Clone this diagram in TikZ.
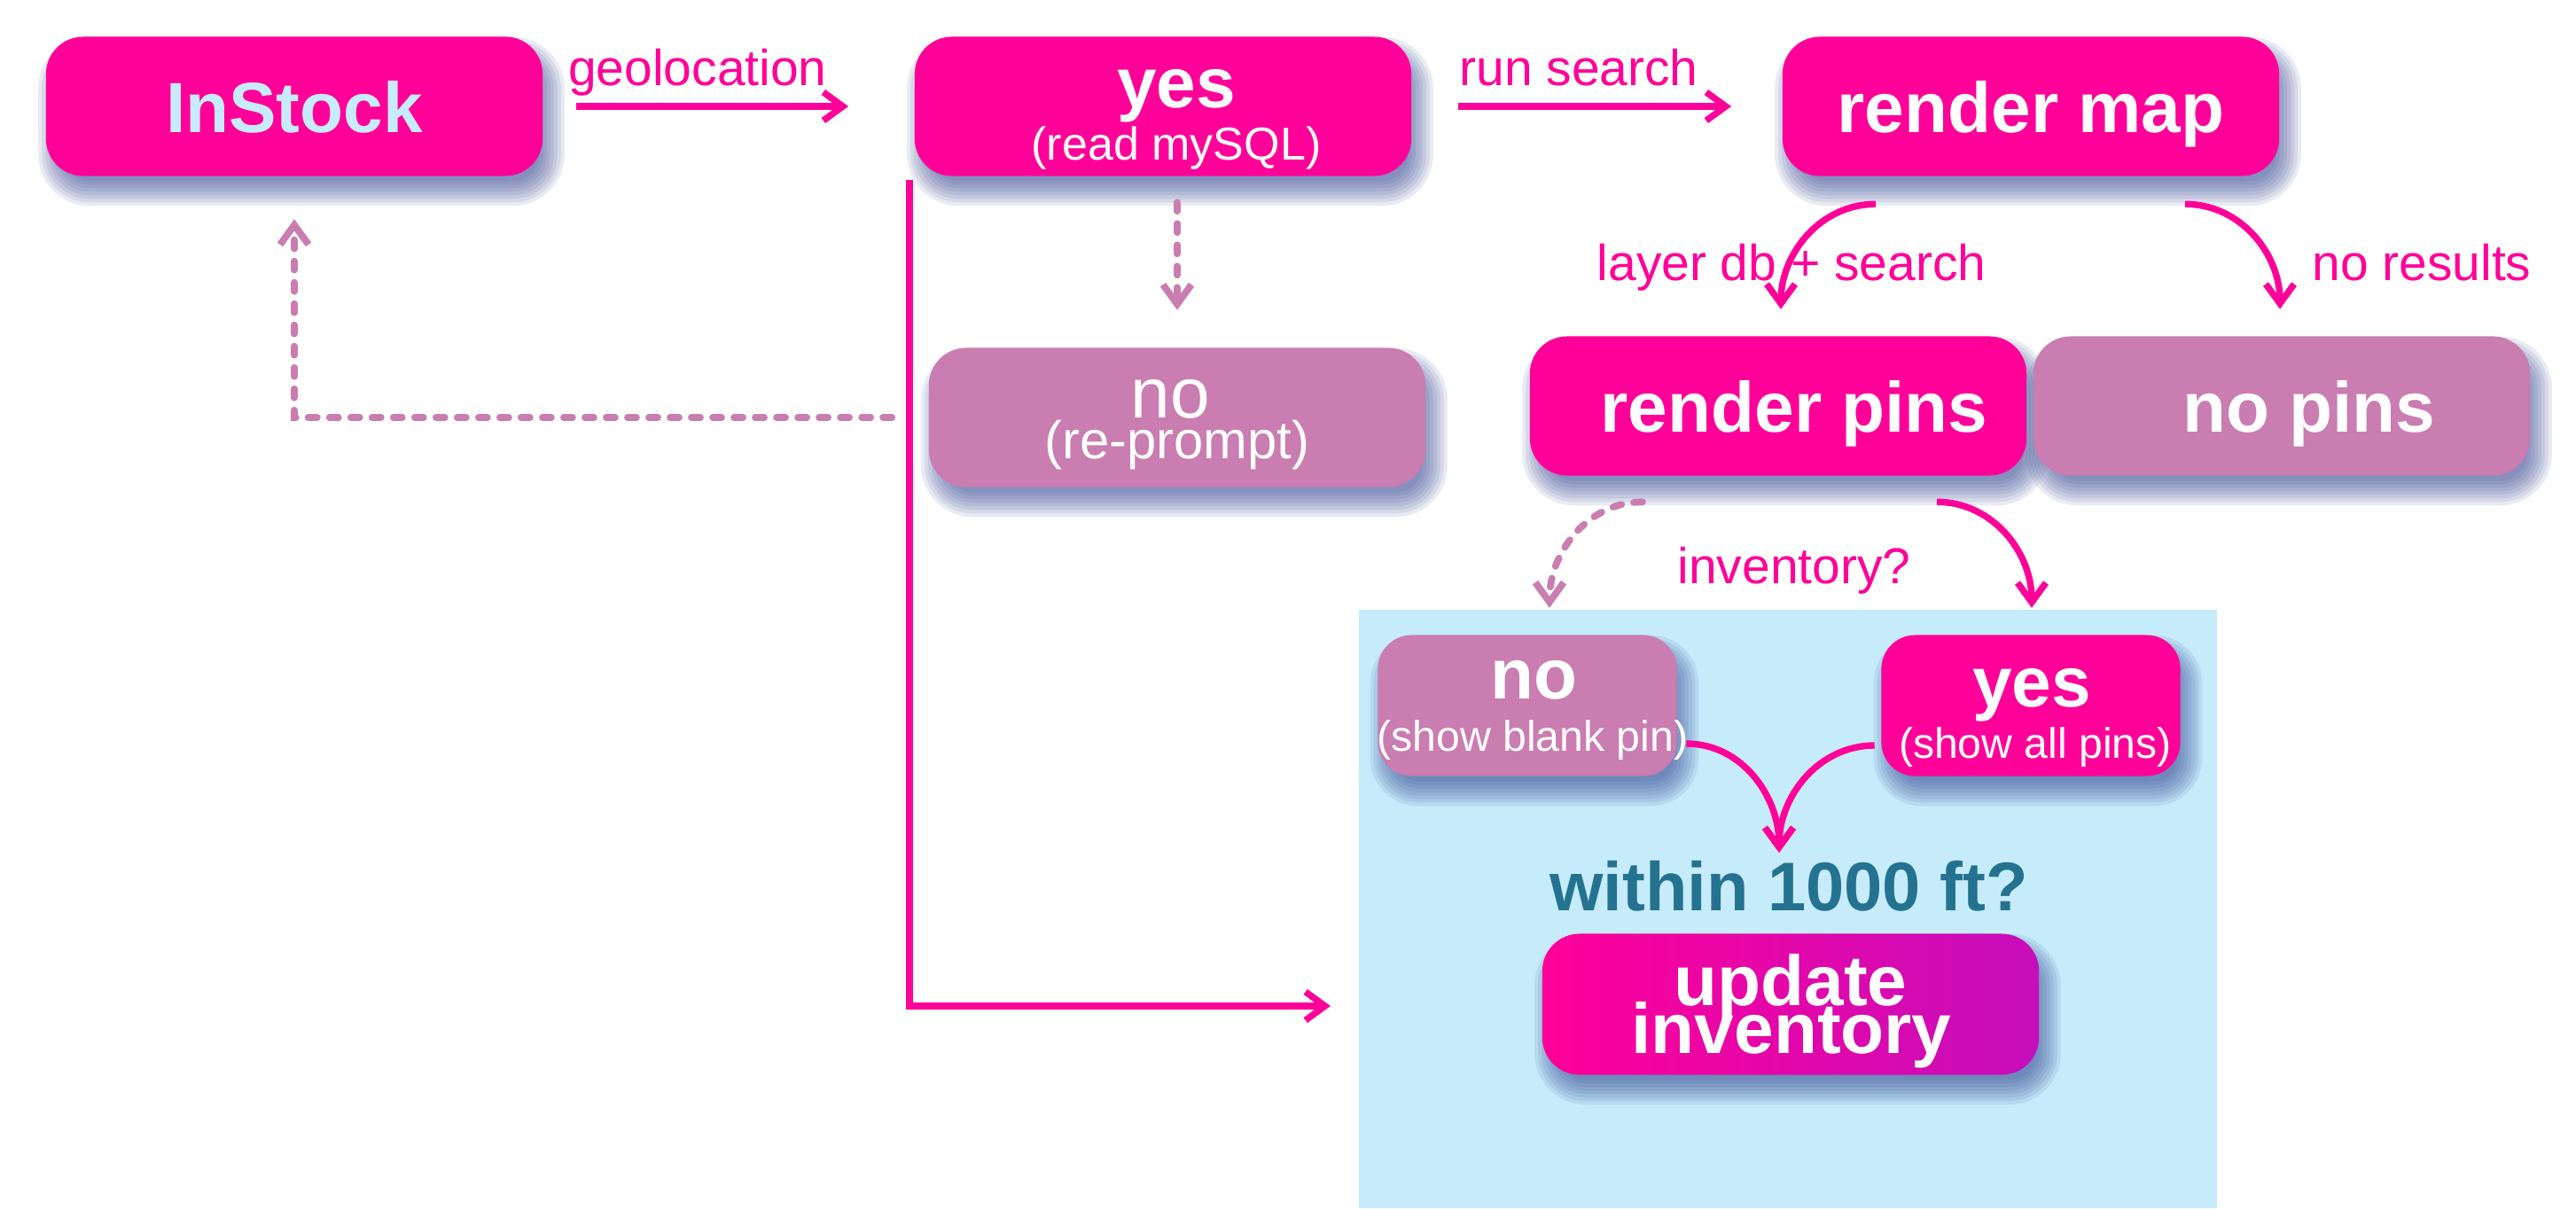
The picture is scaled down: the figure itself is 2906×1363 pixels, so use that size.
\documentclass[tikz,border=0pt]{standalone}
\usepackage{fontspec}
\setmainfont{Liberation Sans}
\usetikzlibrary{arrows.meta,calc}
\definecolor{hot}{RGB}{255,0,153}
\definecolor{mauve}{RGB}{201,125,177}
\definecolor{ice}{RGB}{198,236,251}
\definecolor{tealtxt}{RGB}{37,114,144}
\definecolor{violetend}{RGB}{197,14,187}
\definecolor{shadowc}{RGB}{60,75,150}
\newcommand\fsz[1]{\fontsize{#1}{#1}\selectfont}
\pgfdeclarelayer{backfill}
\pgfdeclarelayer{shadowlayer}
\pgfsetlayers{backfill,shadowlayer,main}
\newcommand\softshadow[2]{%
  \begin{pgfonlayer}{shadowlayer}
  \foreach \o in {-12,-8,-4,0,4,8,12,16}{%
    \pgfmathsetmacro\rr{#2+\o*0.01}%
    \fill[shadowc, fill opacity=0.11, rounded corners=\rr cm]
      ($(#1.north west)+({8-(\o)},{17-(\o)})$) rectangle ($(#1.south east)+({8+\o},{17+\o})$);
  }%
  \end{pgfonlayer}}
\begin{document}
\begin{tikzpicture}[x=0.01cm,y=-0.01cm,
  box/.style={rounded corners=0.42cm, minimum width=5.6cm, minimum height=1.57cm,
    inner sep=0pt, text=white, font=\bfseries\fsz{22.8}, text depth=0pt},
  pinkbox/.style={box, fill=hot},
  mauvebox/.style={box, fill=mauve},
  smallbox/.style={minimum width=3.37cm, minimum height=1.59cm, rounded corners=0.38cm},
  lbl/.style={text=hot, font=\fsz{16.2}, anchor=base, inner sep=0pt},
  txt/.style={text=white, anchor=base, inner sep=0pt},
  big/.style={txt, font=\bfseries\fsz{22.8}},
  arr/.style={draw=hot, line width=2.1pt, -{Straight Barb[length=0.22cm,width=0.32cm]}},
  darr/.style={draw=mauve, line width=2.2pt, line cap=round, dash pattern=on 0.1cm off 0.14cm,
    -{Straight Barb[length=0.22cm,width=0.32cm]}}
]
\begin{pgfonlayer}{backfill}
\useasboundingbox (0,0) rectangle (2906,1363);
\fill[white] (0,0) rectangle (2906,1363);
% light blue panel
\fill[ice] (1533,688) rectangle (2501,1363);
\end{pgfonlayer}

% top row
\node[pinkbox, text=ice] (instock) at (332,120) {InStock};
\node[pinkbox] (yes) at (1312,120) {};
\node[big] (yest) at (1327,121) {yes};
\node[txt, font=\fsz{14.8}] (yess) at (1327,180) {(read mySQL)};
\node[pinkbox] (rmap) at (2291,120) {render map};

% second row
\node[mauvebox] (noq) at (1328,471) {};
\node[txt, font=\fsz{22.8}] (noqt) at (1320,471) {no};
\node[txt, font=\fsz{17}] (noqs) at (1328,517) {(re-prompt)};
\node[pinkbox] (rpins) at (2006,458) {};
\node[big] (rpinst) at (2024,487) {render pins};
\node[mauvebox] (nopins) at (2574,458) {};
\node[big] (nopinst) at (2605,487) {no pins};

% inventory row
\node[mauvebox, smallbox] (noblank) at (1723,796) {};
\node[big] (noblankt) at (1730,788) {no};
\node[txt, font=\fsz{13.7}] (noblanks) at (1729,847) {(show blank pin)};
\node[pinkbox, smallbox] (yesall) at (2291,796) {};
\node[big] (yesallt) at (2292,797) {yes};
\node[txt, font=\fsz{13.7}] (yesalls) at (2296,855) {(show all pins)};

\node[anchor=base, inner sep=0pt, text=tealtxt, font=\bfseries\fsz{22.1}] (within) at (2018,1027) {within 1000 ft?};
\node[box, left color=hot, right color=violetend, minimum height=1.59cm] (upd) at (2020,1133) {};
\node[big] (updt1) at (2020,1134) {update};
\node[big] (updt2) at (2021,1188) {inventory};

% shadows
\softshadow{instock}{0.42}
\softshadow{yes}{0.42}
\softshadow{rmap}{0.42}
\softshadow{noq}{0.42}
\softshadow{rpins}{0.42}
\softshadow{nopins}{0.42}
\softshadow{noblank}{0.38}
\softshadow{yesall}{0.38}
\softshadow{upd}{0.42}

% labels
\node[lbl] (lgeo) at (787,96) {geolocation};
\node[lbl] (lrun) at (1781,96) {run search};
\node[lbl] (llayer) at (2021,316) {layer db + search};
\node[lbl] (lnores) at (2732,316) {no results};
\node[lbl] (linv) at (2024,658) {inventory?};

% connectors
\draw[arr, shorten <=0.37cm, shorten >=0.74cm] (instock) -- (yes);
\draw[arr, shorten <=0.52cm, shorten >=0.57cm] (yes) -- (rmap);
\draw[arr] ($(rmap.south)+(-175,31)$) to[out=180,in=90] ($(rpins.north)+(3,-30)$);
\draw[arr] ($(rmap.south)+(174,31)$) to[out=0,in=90] ($(nopins.north)+(-2,-30)$);
\draw[darr, shorten <=0.29cm, shorten >=0.42cm] (noq.north |- yes.south) -- (noq.north);
\draw[darr] ($(noq.west)+(-41,0)$) -| ([yshift=-0.48cm]instock.south);
\coordinate (updin) at (1501,1135);
\draw[arr] ($(yes.south west)+(-5,4)$) |- (updin);
\draw[darr] ($(rpins.south)+(-153,29)$) to[out=180,in=90] ($(noblank.north)+(25,-30)$);
\draw[arr] ($(rpins.south)+(179,29)$) to[out=0,in=90] ($(yesall.north)+(1,-30)$);
\coordinate (merge) at ($(within.north)+(-11,-8)$);
\draw[arr] ($(noblank.east)+(10,43)$) to[out=0,in=90] (merge);
\draw[arr] ($(yesall.west)+(-7,45)$) to[out=180,in=90] (merge);
\end{tikzpicture}
\end{document}
